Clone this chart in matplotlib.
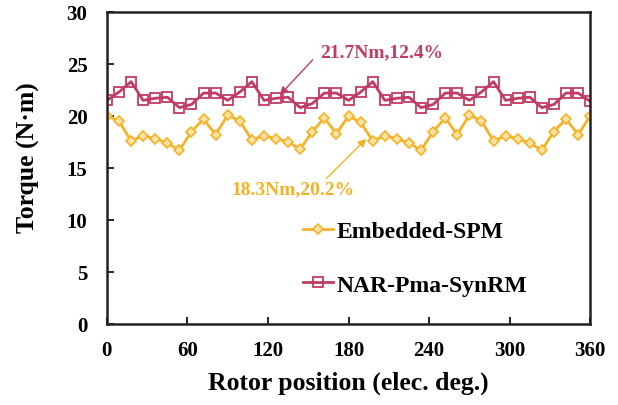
"""Torque waveforms of Embedded-SPM and NAR-Pma-SynRM over one electrical period."""

import numpy as np
import matplotlib
matplotlib.use('Agg')
import matplotlib.pyplot as plt

plt.rcParams['font.family'] = ['Liberation Serif', 'DejaVu Serif']
plt.rcParams['font.weight'] = 'bold'

# =============================================================================

# Rotor position (elec. deg.), 9 deg step
position = np.arange(0, 361, 9)

# Torque (N.m)
torque_spm = [20.0, 19.5, 17.6, 18.1, 17.8, 17.4, 16.7, 18.5, 19.7, 18.2,
              20.1, 19.5, 17.7, 18.1, 17.8, 17.5, 16.8, 18.5, 19.8, 18.3,
              20.0, 19.4, 17.6, 18.1, 17.8, 17.4, 16.7, 18.5, 19.8, 18.2,
              20.1, 19.5, 17.6, 18.1, 17.8, 17.4, 16.7, 18.5, 19.7, 18.2,
              20.0]
torque_syn = [21.5, 22.3, 23.3, 21.5, 21.7, 21.8, 20.8, 21.1, 22.2, 22.2,
              21.5, 22.3, 23.3, 21.5, 21.7, 21.8, 20.8, 21.2, 22.2, 22.2,
              21.5, 22.3, 23.3, 21.5, 21.7, 21.8, 20.8, 21.1, 22.2, 22.2,
              21.5, 22.3, 23.3, 21.5, 21.7, 21.8, 20.8, 21.1, 22.2, 22.2,
              21.4]

xticks = [0, 60, 120, 180, 240, 300, 360]
yticks = [0, 5, 10, 15, 20, 25, 30]

c_spm = '#F5B224'
c_syn = '#C13B62'

# Plot
fig = plt.figure(figsize=(6.18, 4.06), dpi=100)
ax = fig.add_axes([0.173, 0.2, 0.782, 0.768])

ax.plot(position, torque_spm, color=c_spm, lw=2, marker='D', ms=5,
        mfc='#FBE3A8', mec=c_spm, mew=1.2, label='Embedded-SPM')
ax.plot(position, torque_syn, color=c_syn, lw=2, marker='s', ms=7,
        mfc='none', mec=c_syn, mew=1.3, label='NAR-Pma-SynRM')

ax.set_xlim(0, 360)
ax.set_ylim(0, 30)
ax.set_xticks(xticks)
ax.set_yticks(yticks)
ax.tick_params(direction='in', length=5, width=1.2, labelsize=15,
               top=False, right=False)
ax.tick_params(axis='x', pad=12)
ax.tick_params(axis='y', pad=14)
for lab in ax.get_xticklabels() + ax.get_yticklabels():
    lab.set_fontweight('bold')
for sp in ax.spines.values():
    sp.set_linewidth(1.8)
    sp.set_color('#222222')

ax.set_xlabel('Rotor position (elec. deg.)', fontsize=18.5, fontweight='bold')
ax.set_ylabel('Torque (N·m)', fontsize=18.5, fontweight='bold')
ax.xaxis.set_label_coords(0.5, -0.186)
ax.xaxis.label.set_va('center')
ax.yaxis.set_label_coords(-0.163, 0.535)
ax.yaxis.label.set_va('center')

# Annotations
ax.text(158.5, 26.2, '21.7Nm,12.4%', color=c_syn, fontsize=14,
        fontweight='bold', va='center')
ax.annotate('', xy=(128.7, 22.0), xytext=(153.3, 25.4),
            arrowprops=dict(arrowstyle='-|>', color=c_syn, lw=1,
                            shrinkA=0, shrinkB=0, mutation_scale=12))
ax.text(93, 13.0, '18.3Nm,20.2%', color=c_spm, fontsize=14,
        fontweight='bold', va='center')
ax.annotate('', xy=(193.2, 17.8), xytext=(163.7, 14.0),
            arrowprops=dict(arrowstyle='-|>', color=c_spm, lw=1,
                            shrinkA=0, shrinkB=0, mutation_scale=12))

leg = ax.legend(loc='lower left', bbox_to_anchor=(0.361, 0.022), frameon=False,
                handlelength=1.3, handletextpad=0.15, labelspacing=1.35,
                prop={'weight': 'bold', 'size': 17})

plt.savefig('out.png', dpi=100)
